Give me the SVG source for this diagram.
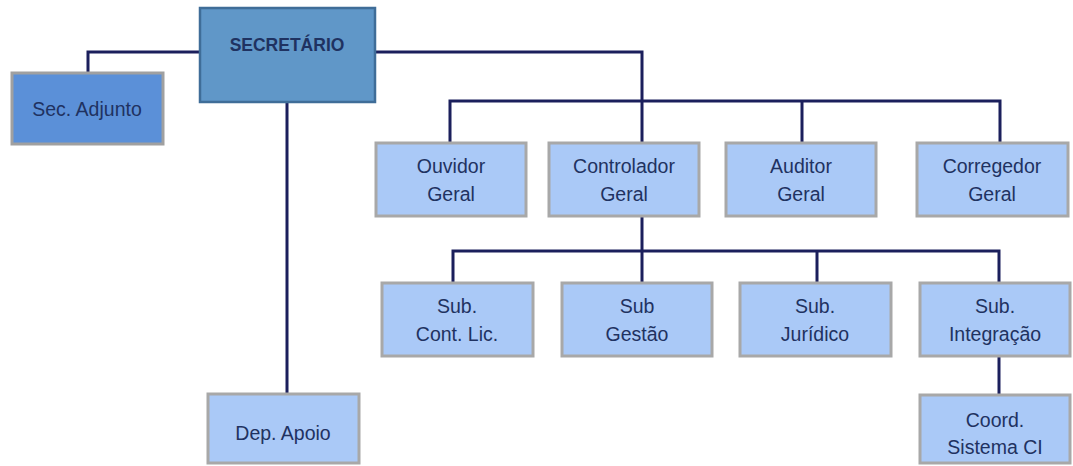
<svg xmlns="http://www.w3.org/2000/svg" width="1073" height="466" viewBox="0 0 1073 466">
<style>
.box{fill:#aac9f7;stroke:#a8a8a8;stroke-width:3}
.t{font-family:"Liberation Sans",Arial,sans-serif;font-size:19.5px;fill:#1f3261;text-anchor:middle;dominant-baseline:central}
.c{fill:none;stroke:#1b1f5c;stroke-width:3}
</style>
<rect width="1073" height="466" fill="#ffffff"/>
<g id="connectors">
<path class="c" d="M200 52H88V73"/>
<path class="c" d="M375 52H642V143"/>
<path class="c" d="M450 143V101H1000V143"/>
<path class="c" d="M802 101V143"/>
<path class="c" d="M287 102V394"/>
<path class="c" d="M642 217V283"/>
<path class="c" d="M453 283V251H999V283"/>
<path class="c" d="M817 251V283"/>
<path class="c" d="M999 357V395"/>
</g>
<g id="secretario">
<rect x="200" y="8" width="175" height="94" fill="#6097c8" stroke="#3f6d98" stroke-width="2.5"/>
<text class="t" x="287" y="45" style="font-weight:bold;font-size:17.5px">SECRETÁRIO</text>
</g>
<g id="sec-adjunto">
<rect x="12" y="73" width="151" height="71" fill="#5b90d8" stroke="#a0a0a0" stroke-width="3"/>
<text class="t" x="87" y="109">Sec. Adjunto</text>
</g>
<g id="ouvidor">
<rect class="box" x="376" y="143" width="150" height="73"/>
<text class="t" x="451" y="166">Ouvidor</text>
<text class="t" x="451" y="194">Geral</text>
</g>
<g id="controlador">
<rect class="box" x="549" y="143" width="150" height="73"/>
<text class="t" x="624" y="166">Controlador</text>
<text class="t" x="624" y="194">Geral</text>
</g>
<g id="auditor">
<rect class="box" x="726" y="143" width="150" height="73"/>
<text class="t" x="801" y="166">Auditor</text>
<text class="t" x="801" y="194">Geral</text>
</g>
<g id="corregedor">
<rect class="box" x="917" y="143" width="151" height="73"/>
<text class="t" x="992" y="166">Corregedor</text>
<text class="t" x="992" y="194">Geral</text>
</g>
<g id="sub-cont-lic">
<rect class="box" x="382" y="283" width="151" height="73"/>
<text class="t" x="457" y="306">Sub.</text>
<text class="t" x="457" y="334">Cont. Lic.</text>
</g>
<g id="sub-gestao">
<rect class="box" x="562" y="283" width="150" height="73"/>
<text class="t" x="637" y="306">Sub</text>
<text class="t" x="637" y="334">Gestão</text>
</g>
<g id="sub-juridico">
<rect class="box" x="740" y="283" width="151" height="73"/>
<text class="t" x="815" y="306">Sub.</text>
<text class="t" x="815" y="334">Jurídico</text>
</g>
<g id="sub-integracao">
<rect class="box" x="920" y="283" width="150" height="73"/>
<text class="t" x="995" y="306">Sub.</text>
<text class="t" x="995" y="334">Integração</text>
</g>
<g id="coord-sistema-ci">
<rect class="box" x="920" y="395" width="150" height="68"/>
<text class="t" x="995" y="420">Coord.</text>
<text class="t" x="995" y="447">Sistema CI</text>
</g>
<g id="dep-apoio">
<rect class="box" x="208" y="394" width="151" height="69"/>
<text class="t" x="283" y="433">Dep. Apoio</text>
</g>
</svg>
